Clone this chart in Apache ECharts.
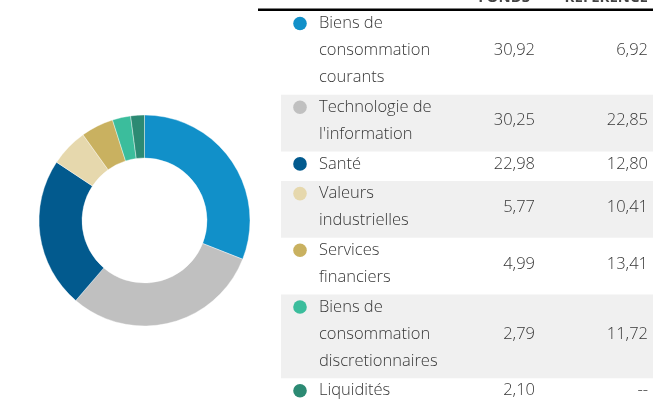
<!DOCTYPE html>
<html>
<head>
<meta charset="utf-8">
<script src="https://cdn.jsdelivr.net/npm/echarts@6/dist/echarts.min.js"></script>
<style>
  html, body { margin: 0; padding: 0; background: #fff; }
  #chart { width: 653px; height: 403px; }
</style>
</head>
<body>
<div id="chart"></div>
<script>
// Sector allocation: fund weight vs. benchmark weight (%)
const sectorNames = [
  'Biens de consommation courants',
  "Technologie de l'information",
  'Santé',
  'Valeurs industrielles',
  'Services financiers',
  'Biens de consommation discretionnaires',
  'Liquidités'
];
const sectorLabelLines = [
  ['Biens de', 'consommation', 'courants'],
  ['Technologie de', "l'information"],
  ['Santé'],
  ['Valeurs', 'industrielles'],
  ['Services', 'financiers'],
  ['Biens de', 'consommation', 'discretionnaires'],
  ['Liquidités']
];
const fundWeights = [30.92, 30.25, 22.98, 5.77, 4.99, 2.79, 2.10];
const benchmarkWeights = [6.92, 22.85, 12.80, 10.41, 13.41, 11.72, null];
const columnHeaders = ['FONDS', 'RÉFÉRENCE'];
const sectorColors = ['#1190c9', '#c0c0c0', '#025a8e', '#e6d8ad', '#c9b160', '#3bbd9c', '#2c8a73'];

const FONT = '"Open Sans", "Noto Sans", sans-serif';
const TEXT_COLOR = '#363636';

function fmt(v) {
  return v == null ? '--' : v.toFixed(2).replace('.', ',');
}

// Table layout
const tableLeft = 281;
const tableRight = 653;
const tableTop = 11;
const lineH = 27;
const rowPad = 2.7;
const dotX = 300;
const labelX = 319;
const fundColX = 535;
const benchColX = 648;

const graphics = [];

// Column headers (partly above the visible area) and the rule beneath them
graphics.push({
  type: 'text', silent: true,
  style: { text: columnHeaders[0], x: 530, y: 5, textAlign: 'right', textVerticalAlign: 'bottom',
           font: 'bold 15px ' + FONT, fill: '#444' }
});
graphics.push({
  type: 'text', silent: true,
  style: { text: columnHeaders[1], x: benchColX, y: 5, textAlign: 'right', textVerticalAlign: 'bottom',
           font: 'bold 15px ' + FONT, fill: '#444' }
});
graphics.push({
  type: 'rect', silent: true,
  shape: { x: 258, y: 8.5, width: tableRight - 258, height: 2.5 },
  style: { fill: '#000' }
});

let y = tableTop;
sectorLabelLines.forEach(function (lines, i) {
  const h = lines.length * lineH + rowPad;
  if (i % 2 === 1) {
    graphics.push({
      type: 'rect', silent: true, z: 0,
      shape: { x: tableLeft, y: y, width: tableRight - tableLeft, height: h },
      style: { fill: '#f0f0f0' }
    });
  }
  const firstCenter = y + 12.5;
  graphics.push({
    type: 'circle', silent: true, z: 2,
    shape: { cx: dotX, cy: firstCenter, r: 6.8 },
    style: { fill: sectorColors[i] }
  });
  lines.forEach(function (ln, k) {
    graphics.push({
      type: 'text', silent: true, z: 2,
      style: { text: ln, x: labelX, y: firstCenter + k * lineH, textVerticalAlign: 'middle',
               font: '300 16.5px ' + FONT, fill: TEXT_COLOR }
    });
  });
  const midY = firstCenter + (lines.length - 1) * lineH / 2;
  graphics.push({
    type: 'text', silent: true, z: 2,
    style: { text: fmt(fundWeights[i]), x: fundColX, y: midY, textAlign: 'right', textVerticalAlign: 'middle',
             font: '300 16.5px ' + FONT, fill: TEXT_COLOR }
  });
  graphics.push({
    type: 'text', silent: true, z: 2,
    style: { text: fmt(benchmarkWeights[i]), x: benchColX, y: midY, textAlign: 'right', textVerticalAlign: 'middle',
             font: '300 16.5px ' + FONT, fill: TEXT_COLOR }
  });
  y += h;
});

const chart = echarts.init(document.getElementById('chart'), null, { renderer: 'canvas' });
chart.setOption({
  animation: false,
  color: sectorColors,
  series: [{
    type: 'pie',
    center: [144.5, 220.5],
    radius: [62.5, 105.5],
    startAngle: 90,
    clockwise: true,
    label: { show: false },
    labelLine: { show: false },
    silent: true,
    itemStyle: { borderColor: '#fff', borderWidth: 0.4 },
    data: sectorNames.map(function (n, i) { return { name: n, value: fundWeights[i] }; })
  }],
  graphic: graphics
});
</script>
</body>
</html>
